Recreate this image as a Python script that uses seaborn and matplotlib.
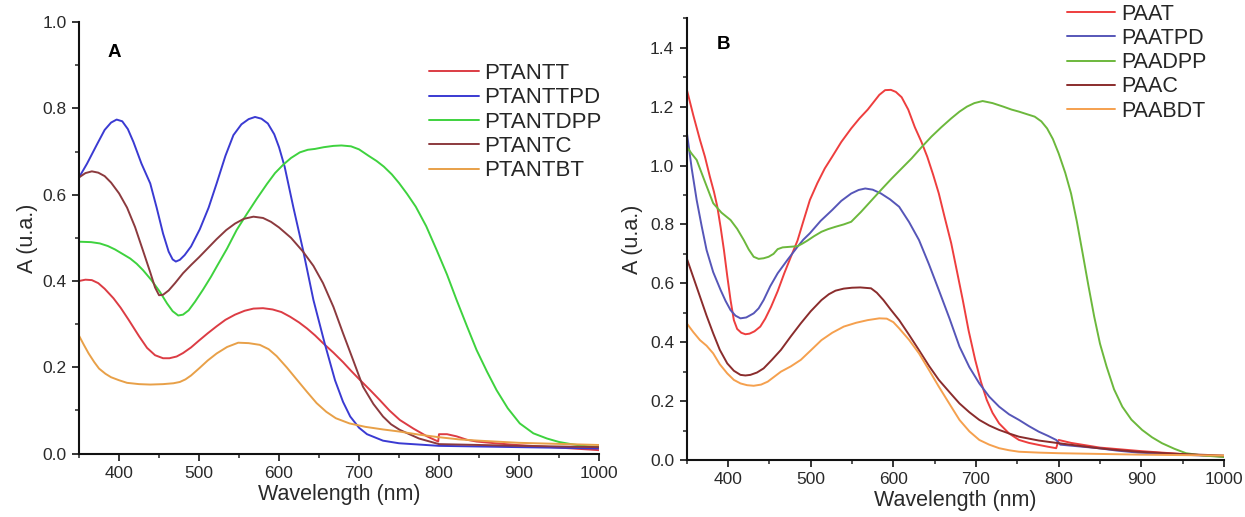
import numpy as np
import pandas as pd
import matplotlib
matplotlib.use("Agg")
import matplotlib.pyplot as plt
import seaborn as sns
from matplotlib.ticker import MultipleLocator, FormatStrFormatter

# ---------------- Panel A data ----------------
names_A = ["PTANTT", "PTANTTPD", "PTANTDPP", "PTANTC", "PTANTBT"]
colors_A = ["#dc3c44", "#3a3ad2", "#3ed23e", "#8c3a3e", "#e8a048"]

ptantt_wl = [350, 358, 366, 374, 382, 393, 402, 412, 425, 435, 445, 455, 463, 472, 480, 490, 500, 511, 522,
             533, 545, 557, 568, 580, 592, 603, 614, 625, 635, 645, 655, 668, 680, 690, 701, 714, 726, 738,
             751, 768, 785, 799, 800, 810, 822, 835, 847, 870, 897, 950, 1000]
ptantt_a = [0.40, 0.403, 0.402, 0.395, 0.382, 0.36, 0.338, 0.31, 0.272, 0.245, 0.228, 0.221, 0.221, 0.225,
            0.233, 0.246, 0.262, 0.279, 0.295, 0.31, 0.322, 0.331, 0.336, 0.337, 0.334, 0.328, 0.317, 0.304,
            0.29, 0.274, 0.256, 0.234, 0.212, 0.192, 0.171, 0.147, 0.124, 0.1, 0.078, 0.058, 0.04, 0.028,
            0.045, 0.045, 0.04, 0.032, 0.028, 0.024, 0.02, 0.014, 0.008]

ptanttpd_wl = [350, 360, 372, 382, 390, 397, 404, 411, 418, 428, 439, 447, 455, 462, 467, 471, 476, 482,
               490, 501, 512, 522, 533, 543, 553, 562, 570, 578, 586, 594, 600, 607, 618, 630, 643, 657, 670,
               680, 689, 700, 710, 730, 750, 800, 900, 1000]
ptanttpd_a = [0.64, 0.672, 0.715, 0.75, 0.767, 0.774, 0.77, 0.752, 0.722, 0.672, 0.626, 0.57, 0.51, 0.468,
              0.45, 0.445, 0.449, 0.46, 0.48, 0.52, 0.57, 0.626, 0.69, 0.738, 0.763, 0.775, 0.78, 0.776,
              0.765, 0.74, 0.71, 0.665, 0.57, 0.472, 0.356, 0.256, 0.17, 0.12, 0.086, 0.06, 0.045, 0.03,
              0.024, 0.018, 0.015, 0.012]

ptantdpp_wl = [350, 365, 376, 386, 395, 405, 414, 422, 430, 440, 451, 460, 467, 474, 480, 487, 495, 505,
               515, 522, 535, 547, 560, 572, 585, 595, 605, 615, 626, 636, 645, 656, 668, 678, 690, 700, 712,
               722, 731, 741, 750, 760, 771, 784, 797, 810, 822, 835, 847, 860, 872, 886, 901, 918, 935, 950,
               965, 980, 1000]
ptantdpp_a = [0.491, 0.49, 0.487, 0.481, 0.473, 0.462, 0.452, 0.44, 0.425, 0.403, 0.375, 0.348, 0.33, 0.32,
              0.322, 0.332, 0.352, 0.38, 0.41, 0.433, 0.475, 0.518, 0.556, 0.59, 0.625, 0.65, 0.669, 0.685,
              0.698, 0.704, 0.706, 0.71, 0.713, 0.714, 0.712, 0.705, 0.69, 0.678, 0.665, 0.647, 0.627, 0.602,
              0.572, 0.527, 0.472, 0.415, 0.356, 0.295, 0.24, 0.19, 0.147, 0.105, 0.07, 0.047, 0.035, 0.027,
              0.022, 0.018, 0.015]

ptantc_wl = [350, 358, 366, 374, 382, 390, 400, 410, 420, 430, 439, 445, 450, 455, 462, 470, 480, 490, 500,
             511, 522, 534, 545, 556, 568, 580, 590, 600, 615, 630, 643, 655, 668, 680, 693, 705, 718, 730,
             740, 751, 775, 800, 850, 900, 1000]
ptantc_a = [0.64, 0.65, 0.654, 0.651, 0.643, 0.628, 0.603, 0.57, 0.525, 0.47, 0.42, 0.385, 0.367, 0.368,
            0.378, 0.395, 0.418, 0.437, 0.455, 0.476, 0.497, 0.518, 0.533, 0.544, 0.549, 0.546, 0.537, 0.524,
            0.5, 0.468, 0.435, 0.395, 0.34, 0.279, 0.215, 0.155, 0.115, 0.086, 0.068, 0.055, 0.035, 0.022,
            0.02, 0.018, 0.015]

ptantbt_wl = [350, 356, 362, 369, 375, 383, 390, 400, 410, 425, 439, 455, 468, 476, 483, 490, 501, 511, 522,
              535, 549, 562, 576, 587, 597, 610, 622, 635, 647, 659, 671, 688, 708, 730, 751, 775, 800, 825,
              850, 900, 1000]
ptantbt_a = [0.273, 0.252, 0.232, 0.212, 0.197, 0.185, 0.177, 0.17, 0.164, 0.161, 0.16, 0.161, 0.163, 0.166,
             0.172, 0.181, 0.199, 0.216, 0.232, 0.247, 0.257, 0.256, 0.252, 0.242, 0.226, 0.199, 0.172, 0.143,
             0.117, 0.097, 0.082, 0.07, 0.062, 0.056, 0.051, 0.044, 0.038, 0.033, 0.03, 0.025, 0.02]

# ---------------- Panel B data ----------------
names_B = ["PAAT", "PAATPD", "PAADPP", "PAAC", "PAABDT"]
colors_B = ["#ee3e3e", "#5656b8", "#6cb83c", "#8a2c2c", "#f5a04e"]

paat_wl = [350, 358, 366, 372, 378, 383, 387, 391, 395, 399, 403, 407, 411, 416, 421, 426, 432, 439, 445,
           452, 460, 468, 476, 484, 491, 499, 508, 517, 526, 537, 549, 559, 569, 576, 583, 590, 597, 603,
           610, 618, 626, 634, 641, 648, 655, 662, 670, 677, 684, 691, 699, 706, 713, 720, 728, 740, 752,
           764, 776, 787, 797, 800, 815, 850, 900, 950, 1000]
paat_a = [1.259, 1.17, 1.087, 1.03, 0.962, 0.91, 0.86, 0.79, 0.713, 0.625, 0.543, 0.475, 0.445, 0.432,
          0.427, 0.429, 0.437, 0.453, 0.48, 0.52, 0.573, 0.634, 0.69, 0.745, 0.81, 0.883, 0.94, 0.99, 1.03,
          1.08, 1.126, 1.16, 1.19, 1.215, 1.24, 1.256, 1.257, 1.25, 1.232, 1.19, 1.13, 1.08, 1.03, 0.97,
          0.905, 0.825, 0.736, 0.64, 0.543, 0.44, 0.34, 0.265, 0.204, 0.16, 0.124, 0.09, 0.068, 0.058,
          0.051, 0.045, 0.04, 0.068, 0.058, 0.042, 0.03, 0.02, 0.012]

paatpd_wl = [350, 356, 362, 368, 374, 382, 391, 397, 403, 409, 415, 422, 431, 437, 443, 451, 460, 472, 484,
             491, 499, 512, 526, 537, 549, 558, 566, 575, 585, 596, 607, 619, 631, 643, 655, 668, 680, 692,
             704, 716, 728, 740, 752, 764, 776, 787, 797, 802, 825, 848, 870, 896, 950, 1000]
paatpd_a = [1.115, 0.99, 0.883, 0.795, 0.713, 0.638, 0.577, 0.54, 0.509, 0.49, 0.481, 0.484, 0.498, 0.515,
            0.543, 0.59, 0.634, 0.68, 0.724, 0.748, 0.77, 0.812, 0.849, 0.88, 0.905, 0.917, 0.922, 0.918,
            0.905, 0.885, 0.86, 0.808, 0.747, 0.665, 0.577, 0.48, 0.385, 0.315, 0.26, 0.215, 0.181, 0.155,
            0.136, 0.115, 0.096, 0.082, 0.068, 0.052, 0.046, 0.04, 0.032, 0.025, 0.018, 0.012]

paadpp_wl = [350, 356, 362, 372, 382, 392, 403, 411, 419, 425, 431, 437, 443, 449, 455, 460, 466, 475, 484,
             490, 496, 504, 513, 521, 530, 540, 549, 561, 574, 586, 598, 610, 622, 634, 646, 658, 670, 680,
             689, 698, 708, 720, 733, 743, 752, 762, 771, 779, 786, 793, 800, 808, 815, 822, 829, 836, 843,
             850, 858, 867, 877, 888, 901, 913, 925, 940, 954, 975, 1000]
paadpp_a = [1.064, 1.04, 1.019, 0.945, 0.872, 0.84, 0.815, 0.785, 0.747, 0.715, 0.69, 0.683, 0.685, 0.69,
            0.7, 0.716, 0.722, 0.724, 0.726, 0.735, 0.745, 0.76, 0.775, 0.784, 0.792, 0.8, 0.809, 0.843,
            0.883, 0.92, 0.956, 0.99, 1.024, 1.062, 1.098, 1.13, 1.16, 1.183, 1.2, 1.212, 1.219, 1.212, 1.2,
            1.19, 1.183, 1.174, 1.166, 1.15, 1.126, 1.09, 1.041, 0.975, 0.905, 0.81, 0.702, 0.592, 0.487,
            0.395, 0.317, 0.24, 0.181, 0.137, 0.102, 0.077, 0.057, 0.038, 0.023, 0.015, 0.01]

paac_wl = [350, 358, 366, 374, 382, 390, 399, 407, 415, 421, 427, 435, 443, 453, 464, 476, 488, 500, 513,
           522, 530, 540, 550, 560, 573, 580, 588, 597, 607, 619, 631, 643, 655, 668, 680, 692, 704, 716,
           728, 740, 752, 776, 800, 825, 848, 870, 896, 950, 1000]
paac_a = [0.685, 0.62, 0.555, 0.49, 0.43, 0.374, 0.328, 0.303, 0.289, 0.287, 0.289, 0.297, 0.311, 0.34,
          0.374, 0.42, 0.464, 0.505, 0.543, 0.563, 0.575, 0.582, 0.585, 0.586, 0.583, 0.568, 0.543, 0.51,
          0.475, 0.425, 0.373, 0.32, 0.272, 0.23, 0.192, 0.162, 0.136, 0.117, 0.102, 0.09, 0.079, 0.066,
          0.057, 0.048, 0.04, 0.034, 0.028, 0.02, 0.015]

paabdt_wl = [350, 358, 366, 374, 382, 390, 399, 407, 415, 423, 431, 440, 448, 456, 464, 476, 488, 500, 513,
             526, 540, 555, 569, 583, 592, 600, 607, 619, 631, 643, 655, 668, 680, 692, 704, 716, 728, 740,
             752, 776, 800, 900, 1000]
paabdt_a = [0.464, 0.434, 0.407, 0.388, 0.362, 0.325, 0.294, 0.272, 0.26, 0.254, 0.252, 0.256, 0.266,
            0.283, 0.3, 0.318, 0.34, 0.372, 0.407, 0.432, 0.453, 0.466, 0.475, 0.481, 0.48, 0.468, 0.447,
            0.408, 0.362, 0.306, 0.249, 0.19, 0.136, 0.097, 0.068, 0.052, 0.04, 0.033, 0.028, 0.025, 0.023,
            0.018, 0.015]

x_ticks = [400, 500, 600, 700, 800, 900, 1000]


def long_df(names, wls, vals):
    frames = []
    for n, w, v in zip(names, wls, vals):
        frames.append(pd.DataFrame({"wl": w, "A": v, "name": n}))
    return pd.concat(frames, ignore_index=True)


dfA = long_df(names_A, [ptantt_wl, ptanttpd_wl, ptantdpp_wl, ptantc_wl, ptantbt_wl],
              [ptantt_a, ptanttpd_a, ptantdpp_a, ptantc_a, ptantbt_a])
dfB = long_df(names_B, [paat_wl, paatpd_wl, paadpp_wl, paac_wl, paabdt_wl],
              [paat_a, paatpd_a, paadpp_a, paac_a, paabdt_a])

sns.set_theme(style="ticks")
plt.rcParams["font.family"] = ["Liberation Sans", "DejaVu Sans"]

fig = plt.figure(figsize=(12.45, 5.17), dpi=100)
axA = fig.add_axes([0.0635, 0.1226, 0.4176, 0.8348])
axB = fig.add_axes([0.5516, 0.1103, 0.4315, 0.8543])

for ax, df, names, cols, ymax, ytop, letter, leg_anchor, lfs, ylpad in [
    (axA, dfA, names_A, colors_A, 1.0, 1.0, "A", (0.3445, 0.878), 16, 3),
    (axB, dfB, names_B, colors_B, 1.4, 1.5, "B", (0.857, 0.993), 15.5, 5),
]:
    sns.lineplot(data=df, x="wl", y="A", hue="name", hue_order=names,
                 palette=dict(zip(names, cols)), estimator=None, sort=False,
                 linewidth=1.4, ax=ax)
    ax.set_xlim(350, 1000)
    ax.set_ylim(0, ytop)
    ax.set_xticks(x_ticks)
    ax.set_yticks(np.round(np.arange(0, ymax + 0.001, 0.2), 1))
    ax.yaxis.set_major_formatter(FormatStrFormatter("%.1f"))
    ax.xaxis.set_minor_locator(MultipleLocator(50))
    ax.yaxis.set_minor_locator(MultipleLocator(0.1))
    ax.tick_params(axis="both", which="major", direction="out", length=5, width=1.3,
                   labelsize=12.5, labelcolor="#2a2a2a", pad=4)
    ax.tick_params(axis="both", which="minor", direction="out", length=3, width=1.1)
    for s in ["top", "right"]:
        ax.spines[s].set_visible(False)
    for s in ["left", "bottom"]:
        ax.spines[s].set_linewidth(1.5)
        ax.spines[s].set_color("#111111")
    ax.set_xlabel("Wavelength (nm)", fontsize=15.5, color="#2a2a2a", labelpad=2)
    ax.set_ylabel("A (u.a.)", fontsize=15.5, color="#2a2a2a", labelpad=ylpad)
    ax.text(0.055, 0.93 if letter == "A" else 0.94, letter, transform=ax.transAxes,
            fontsize=13.5, fontweight="black", color="black", ha="left", va="center")
    leg = ax.legend(loc="upper left", bbox_to_anchor=leg_anchor, bbox_transform=fig.transFigure,
                    frameon=False, fontsize=lfs, handlelength=2.25, handletextpad=0.25,
                    labelspacing=0.15, borderaxespad=0, borderpad=0)
    for line in leg.get_lines():
        line.set_linewidth(1.4)

fig.savefig("out.png", dpi=100)
